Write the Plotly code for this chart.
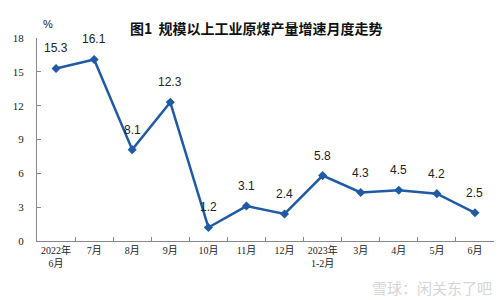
import plotly.graph_objects as go

categories = ["2022年<br>6月", "7月", "8月", "9月", "10月", "11月", "12月",
              "2023年<br>1-2月", "3月", "4月", "5月", "6月"]
values = [15.3, 16.1, 8.1, 12.3, 1.2, 3.1, 2.4, 5.8, 4.3, 4.5, 4.2, 2.5]
labels = ["15.3", "16.1", "8.1", "12.3", "1.2", "3.1", "2.4", "5.8", "4.3", "4.5", "4.2", "2.5"]
y_ticks = [0, 3, 6, 9, 12, 15, 18]

blue = "#1f5aa6"

fig = go.Figure()
fig.add_trace(go.Scatter(
    x=categories, y=values, mode="lines+markers",
    line=dict(color=blue, width=2.5),
    marker=dict(symbol="diamond", size=7, color=blue),
    cliponaxis=False, hoverinfo="skip",
))

for c, v, t in zip(categories, values, labels):
    fig.add_annotation(x=c, y=v, text=t, showarrow=False, yshift=20,
                       font=dict(family="Liberation Sans, Arial", size=12, color="#222"))

fig.update_layout(
    width=500, height=300,
    margin=dict(l=37, r=6, t=38, b=59),
    paper_bgcolor="white", plot_bgcolor="white",
    showlegend=False,
    xaxis=dict(
        type="category", showgrid=False, showline=True, linecolor="#888", linewidth=1,
        ticks="inside", ticklen=4, tickcolor="#888", tickson="boundaries",
        tickangle=0,
        tickfont=dict(family="Liberation Serif, Times New Roman, Noto Sans CJK SC", size=10, color="#222"),
        range=[-0.5, 11.5],
    ),
    yaxis=dict(
        range=[0, 18], tickvals=y_ticks, showgrid=False, zeroline=False,
        showline=True, linecolor="#888", linewidth=1,
        ticks="inside", ticklen=4, tickcolor="#888",
        tickfont=dict(family="Liberation Serif, Times New Roman", size=11, color="#222"),
        ticklabelstandoff=10,
    ),
    font=dict(family="Noto Sans CJK SC"),
)

fig.add_annotation(text="<b>图1  规模以上工业原煤产量增速月度走势</b>", xref="paper", yref="paper",
                   x=0.48, y=1.0, yshift=22, showarrow=False,
                   font=dict(family="Noto Sans CJK SC", size=14, color="#111"))
fig.add_annotation(text="%", xref="paper", yref="paper", x=0.0, y=1.0, yshift=22, xshift=4,
                   showarrow=False, font=dict(family="Liberation Sans, Arial", size=11, color="#222"))
fig.add_annotation(text="雪球：闲关东了吧", xref="paper", yref="paper", x=1.0, y=0, yshift=-46,
                   xanchor="right", yanchor="middle", showarrow=False,
                   font=dict(family="Noto Sans CJK SC", size=15, color="#d6d6d6"))

fig.write_html("out.html")
